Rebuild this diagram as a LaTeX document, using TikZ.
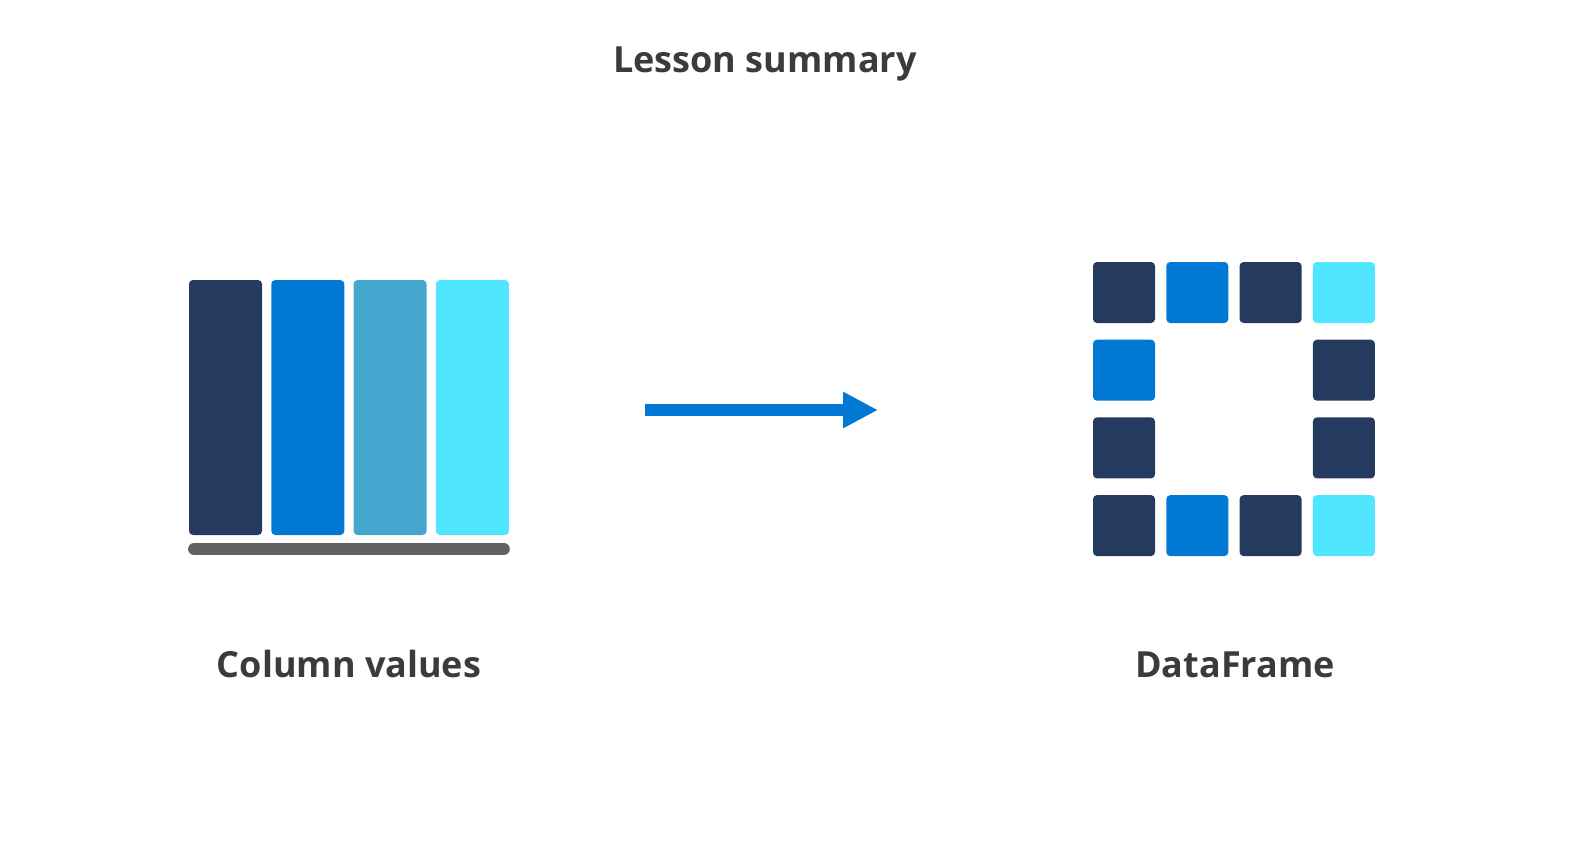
\documentclass[tikz,border=0pt]{standalone}
\usepackage{fontspec}
\setmainfont{Open Sans}
\usetikzlibrary{arrows.meta, positioning}
\definecolor{navy}{HTML}{243A5E}
\definecolor{azure}{HTML}{0078D4}
\definecolor{steel}{HTML}{45A6CE}
\definecolor{cyan}{HTML}{50E6FF}
\definecolor{baseline}{HTML}{616161}
\definecolor{txt}{HTML}{3B3B3B}
\tikzset{
  colbar/.style = {rectangle, rounded corners=3pt, minimum width=54.75pt,
                   minimum height=191.25pt, inner sep=0pt},
  cellbox/.style= {rectangle, rounded corners=3pt, minimum width=46.5pt,
                   minimum height=45.75pt, inner sep=0pt},
  ttl/.style    = {font=\fontsize{27}{31}\selectfont\bfseries, text=txt, anchor=base},
  flow/.style   = {-{Triangle[length=26.25pt, width=25.5pt]}, line width=9pt, draw=azure},
}
\begin{document}
\begin{tikzpicture}[x=0.75pt, y=-0.75pt]
					\useasboundingbox (0,0) rectangle (1596,858);
					\node[ttl] (title) at (765,72) {Lesson summary};
					% column values
					\foreach \i/\cl in {0/navy,1/azure,2/steel,3/cyan}{
						\node[colbar, fill=\cl] (bar\i) at ({225.5+\i*82.3},407.5) {};
					}
					\draw[line width=9pt, draw=baseline, line cap=round] ([xshift=4pt]bar0.south west |- 0,549) coordinate (gl)
						-- ([xshift=-4pt]bar3.south east |- 0,549) coordinate (gr);
					\node[ttl] (lcol) at (349,677) {Column values};
					% dataframe frame of cells
					\foreach \r/\c/\cl in {
						0/0/navy, 0/1/azure, 0/2/navy, 0/3/cyan,
						1/0/azure, 1/3/navy,
						2/0/navy, 2/3/navy,
						3/0/navy, 3/1/azure, 3/2/navy, 3/3/cyan}{
						\node[cellbox, fill=\cl] (c\r\c) at ({1124+\c*73.3},{292.5+\r*77.7}) {};
					}
					\node[ttl] (ldf) at (1235,677) {DataFrame};
					\coordinate (atail) at (645,410);
					\coordinate (ahead) at (878,410);
					\draw[flow] (atail) -- (ahead);
				\end{tikzpicture}
\end{document}
